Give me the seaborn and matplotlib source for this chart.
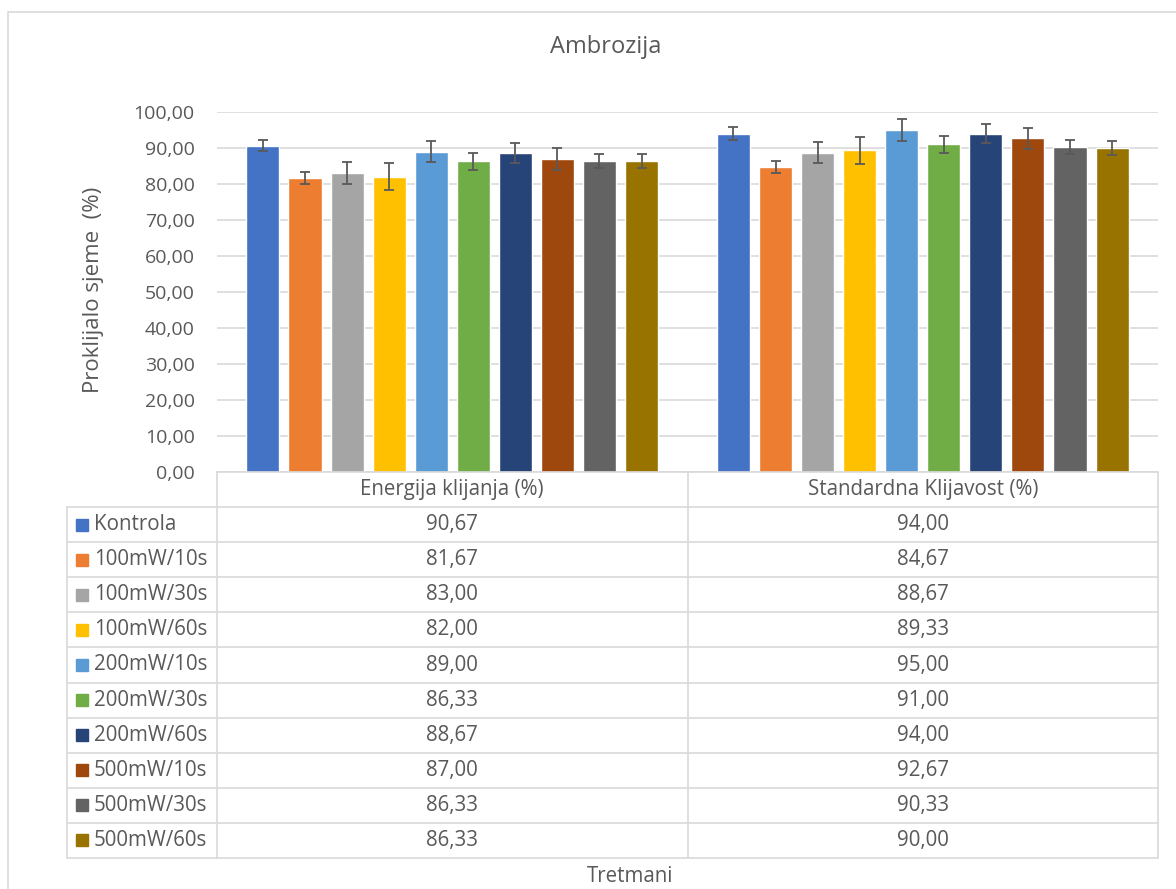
import pandas as pd
import matplotlib
matplotlib.use('Agg')
import matplotlib.pyplot as plt
import seaborn as sns
from matplotlib.patches import Rectangle

# ---------------------------------------------------------------------------
# Podaci (ocitani s grafikona)
# ---------------------------------------------------------------------------
tretmani = ['Kontrola', '100mW/10s', '100mW/30s', '100mW/60s', '200mW/10s',
            '200mW/30s', '200mW/60s', '500mW/10s', '500mW/30s', '500mW/60s']
mjere = ['Energija klijanja (%)', 'Standardna Klijavost (%)']
energija = [90.67, 81.67, 83.00, 82.00, 89.00, 86.33, 88.67, 87.00, 86.33, 86.33]
klijavost = [94.00, 84.67, 88.67, 89.33, 95.00, 91.00, 94.00, 92.67, 90.33, 90.00]
err_energija = [1.6, 1.6, 3.0, 3.8, 3.0, 2.4, 2.8, 3.0, 2.0, 1.9]
err_klijavost = [1.7, 1.6, 2.9, 3.7, 3.0, 2.4, 2.7, 3.0, 1.9, 1.9]
boje = ['#4472C4', '#ED7D31', '#A5A5A5', '#FFC000', '#5B9BD5',
        '#70AD47', '#264478', '#9E480E', '#636363', '#997300']

df = pd.DataFrame({
    'Mjera': [mjere[0]] * len(tretmani) + [mjere[1]] * len(tretmani),
    'Tretman': tretmani * 2,
    'Vrijednost': energija + klijavost,
})

def fmt(v):
    return f"{v:.2f}".replace('.', ',')

sns.set_theme(style='white')
plt.rcParams['font.family'] = ['Open Sans', 'DejaVu Sans']
SIVA = '#595959'
LINIJA = '#d9d9d9'
W, H = 1176, 889
FS = 14.8

fig = plt.figure(figsize=(W / 100, H / 100), dpi=100)

# okvir grafikona
fig.patches.append(Rectangle((8 / W, -0.1), 1.2, 1 - 12 / H + 0.1, transform=fig.transFigure,
                             fill=False, edgecolor=LINIJA, linewidth=1.2))

# ---------------------------------------------------------------------------
# Stupci
# ---------------------------------------------------------------------------
ax = fig.add_axes([217 / W, 1 - 472 / H, 941 / W, 360 / H])
sns.barplot(data=df, x='Mjera', y='Vrijednost', hue='Tretman', hue_order=tretmani,
            palette=boje, saturation=1, width=0.894, gap=0.214, errorbar=None,
            legend=False, ax=ax)

for cont, e1, e2 in zip(ax.containers, err_energija, err_klijavost):
    for bar, e in zip(cont, [e1, e2]):
        ax.errorbar(bar.get_x() + bar.get_width() / 2, bar.get_height(), yerr=e,
                    color=SIVA, elinewidth=1.3, capsize=3.3, capthick=1.3, zorder=5)

ax.set_xlim(-0.5, 1.5)
ax.set_ylim(0, 100)
ax.set_yticks(range(0, 101, 10))
ax.set_yticklabels([fmt(v) for v in range(0, 101, 10)], color=SIVA, fontsize=14)
ax.set_xticks([])
ax.set_xlabel('')
ax.set_ylabel('')
ax.grid(axis='y', color=LINIJA, linewidth=1.2)
ax.set_axisbelow(True)
ax.tick_params(axis='y', length=0, pad=16)
for s in ax.spines.values():
    s.set_visible(False)

# ---------------------------------------------------------------------------
# Tablica podataka
# ---------------------------------------------------------------------------
tab = fig.add_axes([217 / W, 1 - 858 / H, 941 / W, 386 / H])
tab.set_xlim(-0.5, 1.5)
tab.set_ylim(11, 0)
tab.axis('off')
px = 2 / 941  # jedinica po pikselu
lijevo = -0.5 - 150 * px

kw = dict(color=LINIJA, linewidth=1.2, clip_on=False)
tab.plot([-0.5, 1.5], [0, 0], **kw)
for r in range(1, 12):
    tab.plot([lijevo, 1.5], [r, r], **kw)
for x in [-0.5, 0.5, 1.5]:
    tab.plot([x, x], [0, 11], **kw)
tab.plot([lijevo, lijevo], [1, 11], **kw)

for i, m in enumerate(mjere):
    tab.text(i, 0.5, m, ha='center', va='center', color=SIVA, fontsize=FS)

for r, (t, c, v1, v2) in enumerate(zip(tretmani, boje, energija, klijavost), start=1):
    tab.plot([lijevo + 15 * px], [r + 0.5], marker='s', markersize=8.5, color=c,
             linestyle='none', clip_on=False)
    tab.text(lijevo + 27 * px, r + 0.5, t, ha='left', va='center', color=SIVA, fontsize=FS)
    tab.text(0, r + 0.5, fmt(v1), ha='center', va='center', color=SIVA, fontsize=FS)
    tab.text(1, r + 0.5, fmt(v2), ha='center', va='center', color=SIVA, fontsize=FS)

# ---------------------------------------------------------------------------
# Naslovi
# ---------------------------------------------------------------------------
fig.text(606 / W, 1 - 47 / H, 'Ambrozija', ha='center', va='center', color=SIVA, fontsize=17)
fig.text(93 / W, 1 - 290 / H, 'Proklijalo sjeme  (%)', rotation=90, ha='center',
         va='center', color=SIVA, fontsize=16)
fig.text(630 / W, 1 - 876 / H, 'Tretmani', ha='center', va='center', color=SIVA, fontsize=FS)

fig.savefig('out.png', dpi=100)
